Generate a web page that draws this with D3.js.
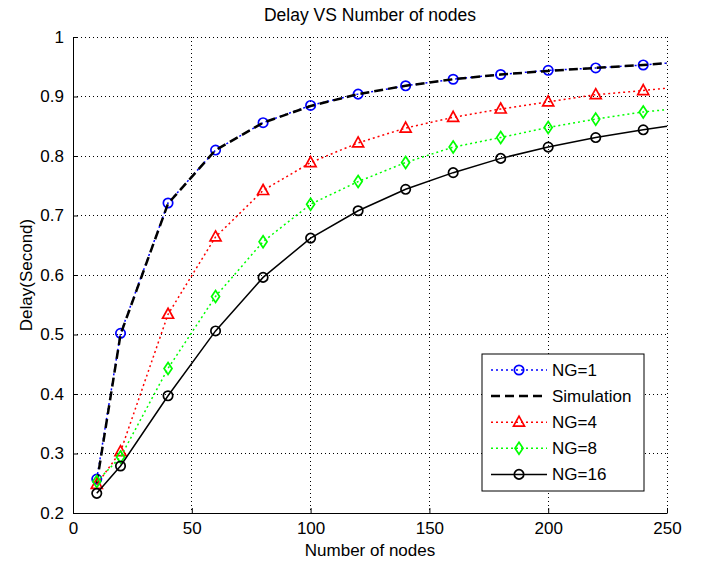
<!DOCTYPE html>
<html><head><meta charset="utf-8">
<script src="https://cdn.jsdelivr.net/npm/d3@7"></script>
<style>body{margin:0;background:#fff}svg{display:block}text{font-family:"Liberation Sans",Arial,sans-serif}</style>
</head><body><svg id="c" width="705" height="562"></svg>
<script>
const nodes = [10,20,40,60,80,100,120,140,160,180,200,220,240,250];
const ng1  = [0.257,0.502,0.721,0.810,0.856,0.885,0.904,0.918,0.929,0.937,0.944,0.948,0.953,0.956];
const sim  = [0.250,0.500,0.720,0.810,0.856,0.884,0.904,0.918,0.929,0.937,0.943,0.948,0.953,0.956];
const ng4  = [0.248,0.303,0.534,0.664,0.742,0.789,0.822,0.847,0.865,0.879,0.891,0.903,0.910,0.914];
const ng8  = [0.253,0.294,0.443,0.564,0.656,0.719,0.757,0.789,0.815,0.831,0.848,0.862,0.874,0.878];
const ng16 = [0.233,0.279,0.397,0.506,0.596,0.662,0.708,0.744,0.772,0.796,0.815,0.831,0.844,0.850];
const xTicks = [0,50,100,150,200,250];
const yTicks = [0.2,0.3,0.4,0.5,0.6,0.7,0.8,0.9,1];
const legendLabels = ["NG=1","Simulation","NG=4","NG=8","NG=16"];

const L=73,T=37,W=594,H=476;
const FS=17;
const svg=d3.select("#c");
const x=d3.scaleLinear().domain([0,250]).range([L,L+W]);
const y=d3.scaleLinear().domain([0.2,1]).range([T+H,T]);

// grid
const g=svg.append("g");
g.selectAll(".gx").data(xTicks.filter(d=>d>0)).join("line")
 .attr("x1",d=>x(d)).attr("x2",d=>x(d)).attr("y1",T).attr("y2",T+H)
 .attr("stroke","#000").attr("stroke-width",1).attr("stroke-dasharray","1,3").attr("shape-rendering","crispEdges");
g.selectAll(".gy").data(yTicks.filter(d=>d>0.2)).join("line")
 .attr("x1",L).attr("x2",L+W).attr("y1",d=>y(d)).attr("y2",d=>y(d))
 .attr("stroke","#000").attr("stroke-width",1).attr("stroke-dasharray","1,3").attr("shape-rendering","crispEdges");

// axes
const xa=svg.append("g").attr("transform",`translate(0,${T+H})`)
 .call(d3.axisBottom(x).tickValues(xTicks).tickSizeInner(-5).tickSizeOuter(0).tickPadding(9).tickFormat(d3.format("d")));
const ya=svg.append("g").attr("transform",`translate(${L},0)`)
 .call(d3.axisLeft(y).tickValues(yTicks).tickSizeInner(-5).tickSizeOuter(0).tickPadding(9).tickFormat(d=>d===1?"1":d3.format(".1f")(d)));
[xa,ya].forEach(a=>{a.selectAll("path,line").attr("stroke","#000").attr("stroke-width",1);
 a.selectAll("text").attr("font-size",FS).attr("fill","#000").attr("font-family","Liberation Sans, Arial, sans-serif");});

const line=d3.line().x((d,i)=>x(nodes[i])).y(d=>y(d));
const series=[
 {v:ng1,color:"#0000ff",dash:"2,3",w:1.5,marker:"circle"},
 {v:sim,color:"#000",dash:"9,5",w:2.5,marker:null},
 {v:ng4,color:"#ff0000",dash:"2,3",w:1.5,marker:"triangle"},
 {v:ng8,color:"#00ff00",dash:"2,3",w:1.5,marker:"diamond"},
 {v:ng16,color:"#000",dash:null,w:1.5,marker:"circle"}
];
function marker(sel,m,color){
  if(m==="diamond"){
    sel.append("path").attr("d","M0,-6L4,0L0,6L-4,0Z").attr("fill","none").attr("stroke",color).attr("stroke-width",1.7);
  } else if(m==="triangle"){
    sel.append("path").attr("d","M0,-6L5.5,4L-5.5,4Z").attr("fill","none").attr("stroke",color).attr("stroke-width",1.7);
  } else {
    sel.append("circle").attr("r",4.7).attr("fill","none").attr("stroke",color).attr("stroke-width",1.7);
  }
}
series.forEach(s=>{
  svg.append("path").datum(s.v).attr("d",line).attr("fill","none").attr("stroke",s.color)
   .attr("stroke-width",s.w).attr("stroke-dasharray",s.dash);
  if(s.marker){
    svg.selectAll(null).data(s.v.slice(0,-1)).join("g")
     .attr("transform",(d,i)=>`translate(${x(nodes[i])},${y(d)})`)
     .each(function(){marker(d3.select(this),s.marker,s.color);});
  }
});

// title and labels
svg.append("text").attr("x",L+W/2).attr("y",21).attr("text-anchor","middle").attr("font-size",17.5).text("Delay VS Number of nodes");
svg.append("text").attr("x",L+W/2).attr("y",556).attr("text-anchor","middle").attr("font-size",FS).text("Number of nodes");
svg.append("text").attr("transform",`translate(32,${T+H/2}) rotate(-90)`).attr("text-anchor","middle").attr("font-size",FS).text("Delay(Second)");

// legend
const lg=svg.append("g");
lg.append("rect").attr("x",482).attr("y",354).attr("width",162).attr("height",137).attr("fill","#fff").attr("stroke","#000").attr("stroke-width",1);
series.forEach((s,i)=>{
  const yy=370+i*26.1;
  lg.append("line").attr("x1",491).attr("x2",547).attr("y1",yy).attr("y2",yy).attr("stroke",s.color)
   .attr("stroke-width",s.w).attr("stroke-dasharray",s.dash);
  if(s.marker){const m=lg.append("g").attr("transform",`translate(519,${yy})`);marker(m,s.marker,s.color);}
  lg.append("text").attr("x",552).attr("y",yy+6).attr("font-size",FS).text(legendLabels[i]);
});
</script></body></html>
